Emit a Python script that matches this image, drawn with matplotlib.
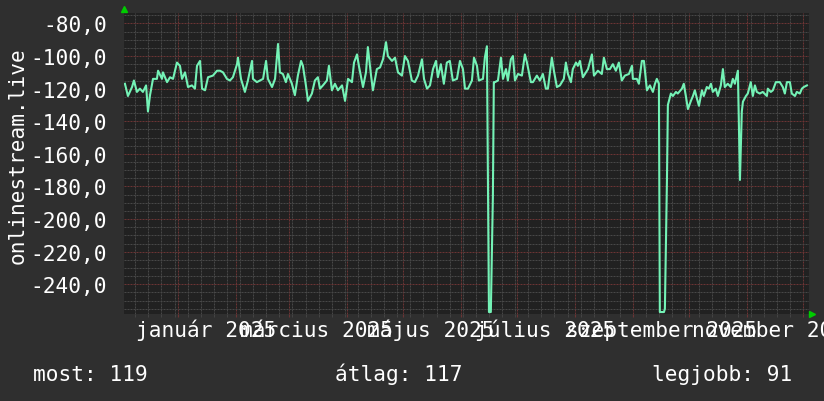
#!/usr/bin/env python3
"""
Signal level of onlinestream.live over one year, drawn in rrdtool style.
"""
import pandas as pd
import matplotlib
matplotlib.use("Agg")
import matplotlib.pyplot as plt
import matplotlib.dates as mdates
import matplotlib.transforms as mtransforms
from matplotlib.ticker import MultipleLocator, FuncFormatter

# data: days after 2024-12-03 and the measured value
start = pd.Timestamp("2024-12-03")
days = [0.5, 2.1, 4.3, 5.3, 6.9, 8.5, 10.1, 11.8, 12.8, 13.9, 15.5, 17.6, 18.2,
        20.3, 20.8, 23.0, 24.6, 26.2, 28.3, 29.9, 31.0, 32.6, 34.2, 36.3, 37.9,
        39.0, 40.6, 41.7, 43.3, 44.9, 47.5, 49.7, 51.3, 52.9, 55.0, 56.6, 58.2,
        60.4, 60.9, 62.5, 64.6, 66.2, 68.4, 68.9, 71.0, 72.6, 74.3, 75.9, 76.9,
        79.1, 80.7, 82.3, 83.3, 84.9, 86.5, 87.6, 89.7, 91.3, 92.9, 94.6, 95.6,
        97.2, 98.3, 100.4, 102.0, 103.6, 104.7, 106.3, 108.4, 109.5, 111.1,
        112.7, 114.3, 116.5, 118.1, 119.7, 121.8, 122.9, 124.5, 125.5, 127.7,
        129.3, 130.3, 131.9, 133.0, 135.1, 136.8, 138.4, 140.0, 141.0, 143.2,
        144.8, 146.4, 148.5, 150.1, 151.7, 153.8, 155.4, 157.1, 159.2, 160.3,
        161.9, 163.5, 165.1, 166.7, 167.7, 169.3, 170.9, 172.5, 174.1, 175.7,
        177.9, 179.5, 181.1, 182.2, 183.8, 185.9, 187.0, 188.6, 189.6, 191.8,
        192.8, 193.9, 195.0, 196.0, 197.1, 197.6, 198.2, 199.8, 201.4, 202.5,
        204.1, 205.1, 206.7, 207.8, 208.9, 210.5, 212.6, 214.2, 215.3, 217.4,
        218.5, 220.6, 222.2, 223.8, 225.4, 226.5, 228.6, 229.7, 231.3, 232.9,
        235.0, 236.1, 237.2, 238.8, 239.8, 241.5, 242.5, 243.6, 245.2, 246.3,
        247.9, 250.0, 251.1, 253.2, 255.3, 256.4, 258.0, 259.6, 261.2, 262.8,
        264.4, 266.0, 267.6, 269.8, 271.4, 271.9, 274.0, 275.1, 276.7, 277.8,
        279.4, 281.0, 282.6, 283.7, 284.7, 285.8, 286.3, 288.5, 289.0, 290.1,
        290.6, 292.2, 293.3, 294.9, 295.9, 298.1, 299.1, 300.2, 301.3, 302.9,
        304.0, 305.0, 306.1, 307.2, 308.8, 309.8, 311.4, 312.5, 313.6, 314.6,
        316.2, 317.3, 318.9, 320.0, 321.0, 322.6, 324.2, 325.3, 326.4, 328.0,
        329.1, 330.1, 330.7, 332.3, 333.3, 334.9, 336.0, 337.1, 338.1, 339.7,
        341.3, 343.5, 344.0, 345.6, 346.7, 348.3, 350.4, 352.0, 353.1, 354.2,
        355.8, 356.8, 358.5, 359.5, 361.1, 362.2, 363.2, 364.9]
values = [-117, -124.5, -119, -115, -122, -120, -122, -118, -134, -124, -114,
          -114, -109, -114, -110, -116, -113, -114, -104, -106, -114, -110,
          -119, -118, -120, -106, -103, -120, -121, -113, -112, -109, -109,
          -110, -114, -115, -113, -105, -101, -114, -122, -115, -103, -114,
          -116, -115, -114, -103, -114, -119, -114, -92.6, -110, -111, -116,
          -111, -117, -124, -112, -103, -106, -118, -127.5, -123, -115, -113,
          -120, -118, -115, -106, -121, -117, -121, -118, -127.5, -114, -116,
          -104, -99, -106, -119, -110, -94.5, -111, -121, -108, -107, -102,
          -91.5, -100, -103, -101, -110, -112, -100, -103, -115, -116, -112,
          -102, -114, -120, -118, -108, -103, -113, -105, -117, -104, -103,
          -115, -114, -103, -108, -120, -120, -115, -101, -106, -115, -114,
          -101, -94, -257, -257, -186, -116, -116, -115, -101, -114, -108,
          -115, -102, -100, -115, -111, -112, -99, -104, -116, -116, -112,
          -115, -111, -120, -120, -101, -109, -119, -118, -114, -104, -111,
          -116, -108, -104, -106, -103, -113, -111, -108, -99, -112, -109,
          -111, -101, -108, -108, -105, -109, -104, -115, -112, -111, -106,
          -114, -114, -117, -103, -103, -121, -118, -122, -117, -114, -117,
          -257, -257, -255, -176, -130, -123, -124.5, -122, -123, -120, -117,
          -124.5, -132.5, -127.5, -124.5, -121, -126, -130.5, -121, -124.5,
          -119, -120, -117, -122, -120, -124.5, -118, -108, -119, -117, -119,
          -114, -117, -109, -176, -134, -128, -124.5, -123, -116, -124.5,
          -118, -122, -123, -122, -124.5, -120, -122, -121, -116, -116, -119,
          -123, -116, -116, -123, -124.5, -122, -123, -120, -119, -118]
month_labels = ["január 2025", "március 2025", "május 2025",
                "július 2025", "szeptember 2025", "november 2025"]
label_dates = ["2025-01-16", "2025-03-16", "2025-05-16",
               "2025-07-16", "2025-09-16", "2025-11-16"]
legend_texts = ["most: 119", "átlag: 117", "legjobb: 91"]

times = start + pd.to_timedelta(days, unit="D")

plt.rcParams['font.family'] = ['DejaVu Sans Mono']
bg = '#2f2f2f'
fs = 15.2
fig = plt.figure(figsize=(8.24, 4.02), dpi=100, facecolor=bg)
ax = fig.add_axes([124 / 824, 87 / 402, 685 / 824, 301 / 402])
ax.set_facecolor('#212121')

ax.plot(times, values, color='#74f2b6', lw=1.5, zorder=3)

ax.set_xlim(start, start + pd.Timedelta(days=366))
ax.set_ylim(-258.2, -73.6)

# grid like rrdtool: red dotted major, grey dotted minor
ax.yaxis.set_major_locator(MultipleLocator(20))
ax.yaxis.set_minor_locator(MultipleLocator(5))
ax.xaxis.set_major_locator(mdates.MonthLocator())
ax.xaxis.set_minor_locator(mdates.WeekdayLocator(byweekday=mdates.MO))
ax.grid(which='major', color='#6b3434', lw=0.72, linestyle=(0, (2, 1)))
ax.grid(which='minor', color='#474747', lw=0.72, linestyle=(0, (2, 1)))
ax.set_axisbelow(True)

ax.yaxis.set_major_formatter(FuncFormatter(lambda v, p: f"{v:.1f}".replace('.', ',')))
ax.tick_params(axis='y', which='both', length=0, pad=12, labelsize=fs,
               labelcolor='white')
ax.tick_params(axis='x', which='both', labelbottom=False)
ax.tick_params(axis='x', which='major', length=2, color='#6b3434')
ax.tick_params(axis='x', which='minor', length=2, color='#474747')
for s in ax.spines.values():
    s.set_visible(False)

# month labels centered on the middle of the month
trans = mtransforms.blended_transform_factory(ax.transData, fig.transFigure)
for lab, d in zip(month_labels, label_dates):
    ax.text(pd.Timestamp(d), 1 - 337 / 402, lab, transform=trans, ha='center',
            va='baseline', color='white', fontsize=fs, clip_on=False)

fig.text(18 / 824, 1 - 156 / 402, 'onlinestream.live', rotation=90,
         ha='center', va='center', color='white', fontsize=fs)

for txt, x in zip(legend_texts, [33, 335, 652]):
    fig.text(x / 824, 1 - 381 / 402, txt, ha='left', va='baseline',
             color='white', fontsize=fs)

# axis arrows
ax.plot([0], [1.013], marker='^', color='#00cc00', ms=5, transform=ax.transAxes,
        clip_on=False)
ax.plot([1.005], [0], marker='>', color='#00cc00', ms=5, transform=ax.transAxes,
        clip_on=False)

fig.savefig('out.png', dpi=100, facecolor=bg)
